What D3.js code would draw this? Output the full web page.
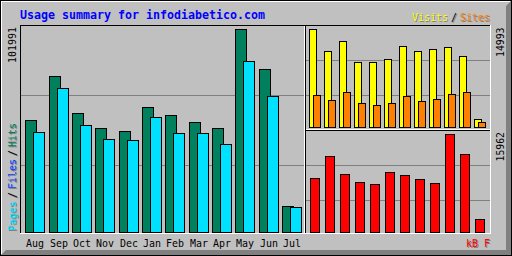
<!DOCTYPE html>
<html><head><meta charset="utf-8">
<script src="https://cdn.jsdelivr.net/npm/d3@7"></script>
<style>html,body{margin:0;padding:0;background:#fff}svg{display:block}</style>
</head><body><svg id="c" width="512" height="256"></svg>
<script>
const months = ["Aug","Sep","Oct","Nov","Dec","Jan","Feb","Mar","Apr","May","Jun","Jul"];
const hits   = [56271,78378,59788,52252,50744,62802,58783,55266,52252,101991,81894,13063];
const pages  = [50242,72349,53759,46725,46223,57778,49740,49740,44213,85914,68329,12560];
const visits = [14993,11627,13157,9944,9944,10403,12392,11627,11933,12239,10862,1224];
const sites  = [4896,4131,5355,3672,3366,3672,4743,3978,4284,5049,5355,765];
const kbytes = [8796,12379,9447,8144,7818,9773,9284,8633,7981,15962,12705,2117];
const title = "Usage summary for infodiabetico.com";
const maxHits = 101991, maxVisits = 14993, maxKB = 15962;

const C = {grey:"#C0C0C0", dk:"#808080", white:"#FFFFFF", black:"#000000",
  hit:"#00805C", file:"#0040FF", page:"#00E0FF", visit:"#FFFF00", site:"#FF8000", kb:"#FF0000", blue:"#0000FF"};
const FONT = "'DejaVu Sans Mono', 'Liberation Mono', monospace";

const svg = d3.select("#c");
// background + frame
svg.append("rect").attr("x",0).attr("y",0).attr("width",512).attr("height",256).attr("fill",C.grey);
svg.append("polygon").attr("points","511,1 511,255 1,255 6,250 506,250 506,6").attr("fill",C.dk);
const line = (x1,y1,x2,y2,col) => svg.append("line").attr("x1",x1).attr("y1",y1).attr("x2",x2).attr("y2",y2)
  .attr("stroke",col).attr("stroke-width",1).attr("shape-rendering","crispEdges");
line(1,1.5,510,1.5,C.white);
line(1.5,1,1.5,254,C.white);
svg.append("rect").attr("x",0.5).attr("y",0.5).attr("width",511).attr("height",255)
  .attr("fill","none").attr("stroke",C.black).attr("shape-rendering","crispEdges");

// inner box
line(20,25.5,491,25.5,C.black);
line(20.5,25,20.5,234,C.black);
line(20,233.5,491,233.5,C.white);
line(490.5,25,490.5,234,C.white);
line(304.5,26,304.5,233,C.white);
line(305.5,26,305.5,233,C.black);
line(306,129.5,490,129.5,C.white);
line(306,130.5,490,130.5,C.black);

// gridlines
[95,165].forEach(y=>line(21,y+0.5,304,y+0.5,C.dk));
[60,95].forEach(y=>line(306,y+0.5,490,y+0.5,C.dk));
[165,200].forEach(y=>line(306,y+0.5,490,y+0.5,C.dk));

// scales
const xMain = d3.scaleBand().domain(months).range([25.7,305.7]);
const xSide = d3.scaleBand().domain(months).range([309,489]);
const yMain = d3.scaleLinear().domain([0,maxHits]).range([232,29]);
const yTop  = d3.scaleLinear().domain([0,maxVisits]).range([127,29]);
const yBot  = d3.scaleLinear().domain([0,maxKB]).range([232,134]);

function bars(data, xs, off, w, ys, base, col){
  svg.append("g").selectAll("rect").data(data).join("rect")
    .attr("x",(d,i)=>Math.floor(xs(months[i]))+off+0.5)
    .attr("y",d=>Math.round(ys(d))+0.5)
    .attr("width",w-1)
    .attr("height",d=>base-Math.round(ys(d)))
    .attr("fill",col).attr("stroke",C.black).attr("stroke-width",1)
    .attr("shape-rendering","crispEdges");
}
bars(hits,  xMain, 0, 12, yMain, 232, C.hit);
bars(pages, xMain, 8, 12, yMain, 232, C.page);
bars(visits, xSide, 0, 8, yTop, 127, C.visit);
bars(sites,  xSide, 4, 8, yTop, 127, C.site);
bars(kbytes, xSide, 1, 10, yBot, 232, C.kb);

// text helpers (monospace, compressed horizontally to a fixed cell width)
function txt(s, x, y, col, opts={}){
  const size = opts.size || 11, cw = opts.cw || 6;
  const k = cw / (0.602 * size);
  const tr = `translate(${x},${y})` + (opts.rot ? " rotate(-90)" : "") + ` scale(${k},1)`;
  return svg.append("text").attr("x",0).attr("y",0).text(s)
    .attr("transform", tr)
    .attr("fill",col).attr("font-family",FONT).attr("font-size",size)
    .attr("font-weight",opts.bold?"bold":"normal");
}
function stxt(s,x,y,col,opts={}){ txt(s,x+1,y+1,C.dk,opts); txt(s,x,y,col,opts); }

// title
txt(title, 20, 19, C.blue, {bold:true, cw:7, size:11.6});

// month labels
months.forEach(m => txt(m, Math.floor(xMain(m))+1, 247, C.black));

// legends
stxt("Visits", 412, 21, C.visit);
stxt("/", 451, 21, C.black);
stxt("Sites", 460, 21, C.site);
stxt("kB F", 466, 247, C.kb);
stxt("Pages", 16, 231, C.page, {rot:true});
stxt("/", 16, 198, C.black, {rot:true});
stxt("Files", 16, 189, C.file, {rot:true});
stxt("/", 16, 156, C.black, {rot:true});
stxt("Hits", 16, 147, C.hit, {rot:true});

// max value labels
txt(String(maxHits), 16, 63, C.black, {rot:true});
txt(String(maxVisits), 504, 57, C.black, {rot:true, cw:5.9});
txt(String(maxKB), 504, 161.5, C.black, {rot:true, cw:5.9});
</script></body></html>
